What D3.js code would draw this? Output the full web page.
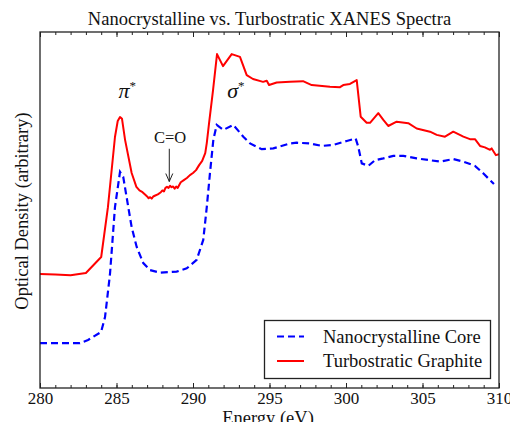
<!DOCTYPE html>
<html><head><meta charset="utf-8">
<script src="https://cdn.jsdelivr.net/npm/d3@7"></script>
<style>
html,body{margin:0;padding:0;background:#fff;}
svg{display:block;font-family:"Liberation Serif","DejaVu Serif",serif;}
</style></head>
<body>
<svg id="chart" width="510" height="422"></svg>
<script>
const title = "Nanocrystalline vs. Turbostratic XANES Spectra";
const xLabel = "Energy (eV)";
const yLabel = "Optical Density (arbitrary)";
const xTicks = [280, 285, 290, 295, 300, 305, 310];
const seriesNames = ["Nanocrystalline Core", "Turbostratic Graphite"];

const nanoE = [280.0, 282.61, 283.14, 283.99, 284.25, 284.53, 284.58, 284.90, 285.23, 285.44, 285.77, 285.99, 286.32, 286.75, 287.19, 287.84, 288.93, 289.59, 290.24, 290.67, 290.90, 291.11, 291.33, 291.55, 291.98, 292.63, 293.29, 293.73, 294.49, 295.25, 296.34, 296.78, 297.65, 298.41, 299.17, 300.05, 300.63, 300.80, 301.03, 301.46, 301.90, 302.44, 303.09, 303.75, 304.62, 306.14, 307.01, 307.67, 308.43, 308.97, 309.67];
const nanoOD = [1.26, 1.26, 1.35, 1.57, 1.99, 3.03, 3.23, 5.08, 6.07, 5.93, 5.08, 4.52, 3.96, 3.51, 3.31, 3.24, 3.27, 3.36, 3.60, 4.16, 5.08, 6.04, 6.97, 7.39, 7.25, 7.39, 7.06, 6.87, 6.71, 6.73, 6.87, 6.89, 6.87, 6.80, 6.83, 6.94, 7.01, 6.78, 6.31, 6.24, 6.40, 6.45, 6.52, 6.52, 6.45, 6.36, 6.43, 6.36, 6.24, 6.03, 5.73];

const turboE = [280.0, 281.0, 282.0, 283.0, 284.0, 284.44, 284.90, 285.08, 285.23, 285.36, 285.56, 285.99, 286.3, 286.5, 286.7, 286.9, 287.0, 287.1, 287.2, 287.3, 287.4, 287.5, 287.7, 287.9, 288.0, 288.1, 288.2, 288.3, 288.4, 288.5, 288.6, 288.7, 288.8, 288.9, 289.0, 289.1, 289.2, 289.4, 289.6, 289.8, 290.0, 290.2, 290.4, 290.6, 290.8, 290.9, 291.05, 291.31, 291.57, 291.96, 292.53, 293.07, 293.51, 293.92, 294.58, 294.82, 294.97, 295.47, 296.34, 297.19, 297.76, 298.95, 299.61, 299.82, 300.26, 300.70, 300.96, 301.35, 301.57, 302.11, 302.44, 302.76, 303.31, 304.07, 304.62, 305.49, 305.93, 306.47, 307.01, 307.67, 308.10, 308.43, 308.76, 309.08, 309.41, 309.52, 309.80, 310.0];
const turboOD = [3.20, 3.19, 3.17, 3.23, 3.68, 5.08, 7.05, 7.50, 7.61, 7.56, 6.97, 6.04, 5.65, 5.55, 5.50, 5.42, 5.38, 5.33, 5.36, 5.32, 5.38, 5.40, 5.44, 5.50, 5.55, 5.52, 5.62, 5.65, 5.62, 5.68, 5.64, 5.66, 5.60, 5.66, 5.62, 5.70, 5.78, 5.84, 5.90, 5.98, 6.04, 6.12, 6.26, 6.38, 6.60, 6.88, 7.44, 8.37, 9.38, 9.04, 9.38, 9.30, 8.79, 8.68, 8.60, 8.63, 8.51, 8.58, 8.60, 8.62, 8.51, 8.46, 8.45, 8.51, 8.54, 8.65, 7.62, 7.45, 7.45, 7.72, 7.53, 7.36, 7.48, 7.44, 7.29, 7.20, 7.11, 7.06, 7.20, 7.06, 6.99, 6.99, 6.80, 6.76, 6.69, 6.73, 6.54, 6.57];

const annLabels = ["π", "σ", "C=O"];
const annE = [285.7, 292.8, 288.5];
const annOD = [8.15, 8.15, 6.88];
const arrowE = [288.45, 288.45];
const arrowOD = [6.72, 5.80];

const svg = d3.select("#chart");
const m = {l: 40, r: 11, t: 32, b: 34};
const W = 510, H = 422;
const x = d3.scaleLinear().domain([280, 310]).range([m.l, W - m.r]);
const y = d3.scaleLinear().domain([0, 10]).range([H - m.b, m.t]);

svg.append("text").attr("x", (m.l + W - m.r) / 2).attr("y", 25)
  .attr("text-anchor", "middle").attr("font-size", 18.5).attr("fill", "#111").text(title);

const line = d3.line().x(d => x(d[0])).y(d => y(d[1]));
const nano = nanoE.map((e, i) => [e, nanoOD[i]]);
const turbo = turboE.map((e, i) => [e, turboOD[i]]);

const clip = svg.append("clipPath").attr("id", "clip").append("rect")
  .attr("x", m.l).attr("y", m.t).attr("width", W - m.r - m.l).attr("height", H - m.b - m.t);
const g = svg.append("g").attr("clip-path", "url(#clip)");
g.append("path").datum(turbo).attr("d", line).attr("fill", "none")
  .attr("stroke", "#ff0000").attr("stroke-width", 2).attr("stroke-linejoin", "round");
g.append("path").datum(nano).attr("d", line).attr("fill", "none")
  .attr("stroke", "#0000ff").attr("stroke-width", 2.2).attr("stroke-dasharray", "7,4");

// axes
const minor = d3.range(280, 311, 1);
const axB = svg.append("g").attr("transform", `translate(0,${H - m.b})`)
  .call(d3.axisBottom(x).tickValues(xTicks).tickSizeInner(-5).tickSizeOuter(0).tickPadding(4).tickFormat(d3.format("d")));
const axBm = svg.append("g").attr("transform", `translate(0,${H - m.b})`)
  .call(d3.axisBottom(x).tickValues(minor).tickSize(-3).tickFormat(""));
const axT = svg.append("g").attr("transform", `translate(0,${m.t})`)
  .call(d3.axisTop(x).tickValues(xTicks).tickSize(-5).tickFormat(""));
const axTm = svg.append("g").attr("transform", `translate(0,${m.t})`)
  .call(d3.axisTop(x).tickValues(minor).tickSize(-3).tickFormat(""));
[axB, axBm, axT, axTm].forEach(a => {
  a.select(".domain").remove();
  a.selectAll("line").attr("stroke", "#222");
});
axB.selectAll("text").attr("font-size", 17).attr("fill", "#111")
  .attr("font-family", "Liberation Serif");
svg.append("rect").attr("x", m.l).attr("y", m.t).attr("width", W - m.r - m.l)
  .attr("height", H - m.b - m.t).attr("fill", "none").attr("stroke", "#222").attr("stroke-width", 1.3);

svg.append("text").attr("x", 268).attr("y", 424).attr("text-anchor", "middle")
  .attr("font-size", 18.5).attr("fill", "#111").text(xLabel);
svg.append("text").attr("transform", `translate(28,${(m.t + H - m.b) / 2 + 1}) rotate(-90)`)
  .attr("text-anchor", "middle").attr("font-size", 18.5).attr("fill", "#111").text(yLabel);

// annotations
[0, 1].forEach(i => {
  const t = svg.append("text").attr("x", x(annE[i])).attr("y", y(annOD[i])).attr("text-anchor", "middle")
    .attr("font-size", 22).attr("font-style", "italic").attr("fill", "#111");
  t.append("tspan").text(annLabels[i]);
  t.append("tspan").attr("font-size", 13).attr("dy", -8).attr("font-style", "normal").text("*");
});
svg.append("text").attr("x", x(annE[2])).attr("y", y(annOD[2])).attr("text-anchor", "middle")
  .attr("font-size", 16.5).attr("fill", "#111").text(annLabels[2]);
const ax0 = x(arrowE[0]), ay0 = y(arrowOD[0]), ax1 = x(arrowE[1]), ay1 = y(arrowOD[1]);
svg.append("line").attr("x1", ax0).attr("y1", ay0).attr("x2", ax1).attr("y2", ay1)
  .attr("stroke", "#222").attr("stroke-width", 1);
svg.append("path").attr("d", `M${ax1 - 3.5},${ay1 - 8}L${ax1},${ay1}L${ax1 + 3.5},${ay1 - 8}`)
  .attr("fill", "none").attr("stroke", "#222").attr("stroke-width", 1);

// legend
const lg = svg.append("g");
lg.append("rect").attr("x", 264.5).attr("y", 320.5).attr("width", 226).attr("height", 58)
  .attr("fill", "#fff").attr("stroke", "#222").attr("stroke-width", 1.3);
const styles = [{c: "#0000ff", d: "7,4"}, {c: "#ff0000", d: null}];
seriesNames.forEach((n, i) => {
  const yy = 336.5 + i * 24.5;
  lg.append("line").attr("x1", 277).attr("x2", 304).attr("y1", yy).attr("y2", yy)
    .attr("stroke", styles[i].c).attr("stroke-width", 2).attr("stroke-dasharray", styles[i].d);
  lg.append("text").attr("x", 323).attr("y", yy + 6).attr("font-size", 18.5).attr("fill", "#111").text(n);
});
</script>
</body></html>
